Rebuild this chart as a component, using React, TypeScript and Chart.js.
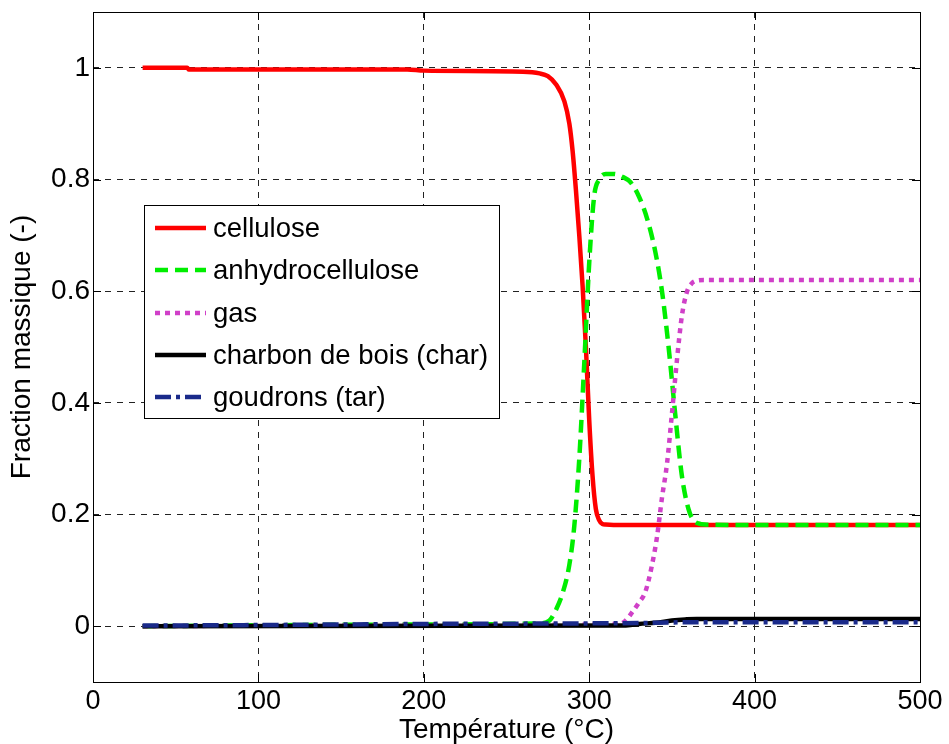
import { useEffect, useRef } from "react";
import { Chart, registerables } from "chart.js";

Chart.register(...registerables);

// ---- data ----
const seriesLabels = [
  "cellulose",
  "anhydrocellulose",
  "gas",
  "charbon de bois (char)",
  "goudrons (tar)",
];

const celluloseT = [30, 57, 58, 190, 200, 260, 270, 275, 280, 285, 288, 290, 292, 294, 296, 298, 300, 302, 304, 306, 308, 310, 320, 500];
const celluloseY = [1.0, 1.0, 0.997, 0.997, 0.995, 0.993, 0.99, 0.985, 0.97, 0.94, 0.9, 0.85, 0.78, 0.7, 0.61, 0.5, 0.37, 0.27, 0.21, 0.19, 0.183, 0.182, 0.181, 0.181];

const anhydroT = [30, 200, 270, 276, 280, 284, 288, 291, 294, 297, 300, 303, 306, 310, 315, 320, 325, 330, 335, 340, 344, 348, 352, 356, 360, 363, 366, 370, 400, 500];
const anhydroY = [0, 0.003, 0.005, 0.01, 0.03, 0.06, 0.11, 0.18, 0.3, 0.47, 0.65, 0.77, 0.8, 0.81, 0.81, 0.805, 0.795, 0.77, 0.73, 0.67, 0.6, 0.5, 0.38, 0.27, 0.21, 0.19, 0.184, 0.182, 0.181, 0.181];

const gasT = [30, 200, 318, 322, 326, 330, 334, 338, 341, 344, 347, 350, 353, 356, 359, 362, 365, 370, 500];
const gasY = [0, 0.002, 0.004, 0.01, 0.025, 0.042, 0.062, 0.11, 0.16, 0.23, 0.29, 0.38, 0.475, 0.555, 0.598, 0.614, 0.619, 0.62, 0.62];

const charT = [30, 320, 325, 330, 340, 350, 358, 365, 500];
const charY = [0, 0.001, 0.002, 0.004, 0.006, 0.01, 0.012, 0.013, 0.013];

const tarT = [30, 100, 200, 300, 340, 360, 500];
const tarY = [0.001, 0.002, 0.004, 0.005, 0.006, 0.007, 0.007];

const xTicks = [0, 100, 200, 300, 400, 500];
const yTicks = [0, 0.2, 0.4, 0.6, 0.8, 1];
const yTickLabels = ["0", "0.2", "0.4", "0.6", "0.8", "1"];

const xTitle = "Température (°C)";
const yTitle = "Fraction massique (-)";

const FONT = "'Liberation Sans', Arial, Helvetica, sans-serif";

function pts(t: number[], y: number[]) {
  return t.map((v, i) => ({ x: v, y: y[i] }));
}

const framePlugin = {
  id: "matlabFrame",
  afterDatasetsDraw(chart: any) {
    const { ctx, chartArea: a, scales } = chart;
    ctx.save();
    ctx.setLineDash([]);
    ctx.strokeStyle = "#000";
    ctx.lineWidth = 1;
    // inner tick marks
    const tl = 8;
    ctx.beginPath();
    xTicks.forEach((v) => {
      const px = Math.round(scales.x.getPixelForValue(v)) + 0.5;
      ctx.moveTo(px, a.bottom);
      ctx.lineTo(px, a.bottom - tl);
      ctx.moveTo(px, a.top);
      ctx.lineTo(px, a.top + tl);
    });
    yTicks.forEach((v) => {
      const py = Math.round(scales.y.getPixelForValue(v)) + 0.5;
      ctx.moveTo(a.left, py);
      ctx.lineTo(a.left + tl, py);
      ctx.moveTo(a.right, py);
      ctx.lineTo(a.right - tl, py);
    });
    ctx.stroke();
    // frame
    ctx.strokeRect(Math.round(a.left) + 0.5, Math.round(a.top) + 0.5, Math.round(a.right - a.left), Math.round(a.bottom - a.top));

    // legend box
    const lx = a.left + 51;
    const ly = a.top + 193;
    const lw = 355;
    const lh = 213;
    ctx.fillStyle = "#fff";
    ctx.fillRect(lx, ly, lw, lh);
    ctx.strokeRect(Math.round(lx) + 0.5, Math.round(ly) + 0.5, lw, lh);
    ctx.font = `27.5px ${FONT}`;
    ctx.textBaseline = "middle";
    ctx.textAlign = "left";
    chart.data.datasets.forEach((ds: any, i: number) => {
      const cy = Math.round(ly + 23 + i * 42.3);
      ctx.save();
      ctx.strokeStyle = ds.borderColor;
      ctx.lineWidth = ds.borderWidth;
      ctx.setLineDash(ds.borderDash || []);
      ctx.beginPath();
      ctx.moveTo(lx + 11, cy);
      ctx.lineTo(lx + 62, cy);
      ctx.stroke();
      ctx.restore();
      ctx.fillStyle = "#000";
      ctx.fillText(ds.label, lx + 69, cy + 1);
    });
    ctx.restore();
  },
};

export default function App() {
  const ref = useRef<HTMLCanvasElement | null>(null);

  useEffect(() => {
    if (!ref.current) return;
    const chart = new Chart(ref.current, {
      type: "line",
      data: {
        datasets: [
          {
            label: seriesLabels[0],
            data: pts(celluloseT, celluloseY),
            borderColor: "#ff0000",
            borderWidth: 4.5,
            order: 5,
          },
          {
            label: seriesLabels[1],
            data: pts(anhydroT, anhydroY),
            borderColor: "#00ee00",
            borderWidth: 4.5,
            borderDash: [13, 7],
            order: 4,
          },
          {
            label: seriesLabels[2],
            data: pts(gasT, gasY),
            borderColor: "#d040c8",
            borderWidth: 4.5,
            borderDash: [5, 5],
            order: 3,
          },
          {
            label: seriesLabels[3],
            data: pts(charT, charY),
            borderColor: "#000000",
            borderWidth: 4.5,
            order: 2,
          },
          {
            label: seriesLabels[4],
            data: pts(tarT, tarY),
            borderColor: "#1a2a8a",
            borderWidth: 4.5,
            borderDash: [16, 5, 4, 5],
            order: 1,
          },
        ] as any,
      },
      options: {
        animation: false,
        responsive: true,
        maintainAspectRatio: false,
        events: [],
        layout: { padding: { top: 12, right: 29, left: 0, bottom: 0 } },
        elements: {
          point: { radius: 0 },
          line: { cubicInterpolationMode: "monotone", fill: false, borderCapStyle: "butt" },
        },
        plugins: {
          legend: { display: false },
          tooltip: { enabled: false },
        },
        scales: {
          x: {
            type: "linear",
            min: 0,
            max: 500,
            afterBuildTicks: (s: any) => {
              s.ticks = xTicks.map((v) => ({ value: v }));
            },
            afterFit: (s: any) => {
              s.height = 62;
              s.paddingLeft = 0;
              s.paddingRight = 0;
            },
            grid: { color: "#222", lineWidth: 1, drawTicks: false },
            border: { display: false, dash: [6, 6] },
            ticks: {
              padding: 3,
              color: "#000",
              font: { family: FONT, size: 27 },
              maxRotation: 0,
              callback: (v: any) => String(v),
            },
            title: {
              display: true,
              text: xTitle,
              color: "#000",
              font: { family: FONT, size: 28, lineHeight: 1 },
              padding: { top: 0, bottom: 0 },
            },
          },
          y: {
            type: "linear",
            min: -0.1,
            max: 1.1,
            afterBuildTicks: (s: any) => {
              s.ticks = yTicks.map((v) => ({ value: v }));
            },
            afterFit: (s: any) => {
              s.width = 93;
              s.paddingTop = 0;
              s.paddingBottom = 0;
            },
            grid: { color: "#222", lineWidth: 1, drawTicks: false },
            border: { display: false, dash: [6, 6] },
            ticks: {
              padding: 3,
              color: "#000",
              font: { family: FONT, size: 28 },
              callback: (v: any) => {
                const i = yTicks.findIndex((t) => Math.abs(t - Number(v)) < 1e-9);
                return i >= 0 ? yTickLabels[i] : "";
              },
            },
            title: {
              display: true,
              text: yTitle,
              color: "#000",
              font: { family: FONT, size: 28, lineHeight: 1 },
              padding: { top: 8, bottom: 0 },
            },
          },
        },
      } as any,
      plugins: [framePlugin],
    });
    return () => chart.destroy();
  }, []);

  return (
    <div style={{ position: "absolute", left: 0, top: 0, width: 949, height: 744, background: "#fff" }}>
      <canvas ref={ref} />
    </div>
  );
}
